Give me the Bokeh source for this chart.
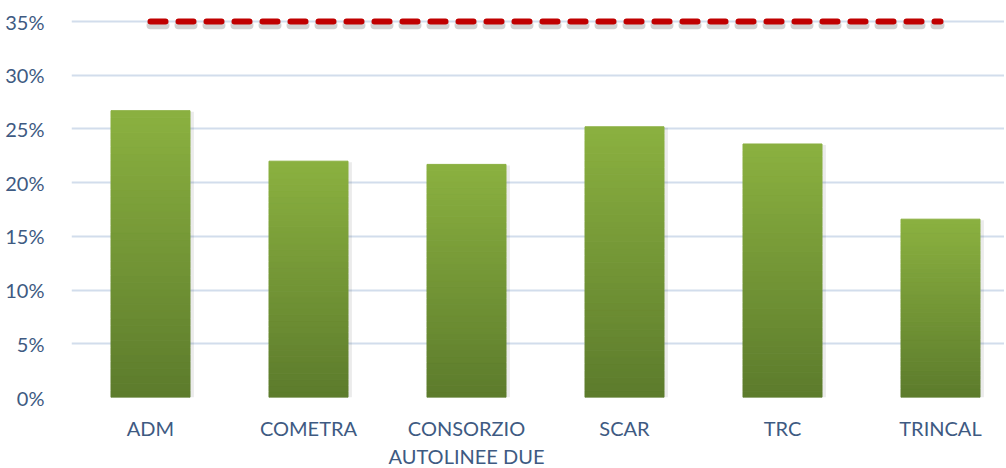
from bokeh.plotting import figure
from bokeh.models import Range1d, FixedTicker
from bokeh.embed import file_html
from bokeh.resources import INLINE

categories = ["ADM", "COMETRA", "CONSORZIO\nAUTOLINEE DUE", "SCAR", "TRC", "TRINCAL"]
values = [26.7, 22.0, 21.7, 25.2, 23.6, 16.6]
target = 35.0
y_ticks = [0, 5, 10, 15, 20, 25, 30, 35]

LABEL = "#3E5A82"
GRID = "#D2DDEC"
TOP = (0x8B, 0xB1, 0x40)
BOT = (0x5C, 0x7B, 0x2C)

xs = [i + 0.5 for i in range(len(categories))]

FW = 933
p = figure(output_backend="svg", toolbar_location=None,
           frame_width=FW, frame_height=385,
           min_border_left=71, min_border_right=0, min_border_top=12, min_border_bottom=60,
           x_range=Range1d(0, FW / 158), y_range=Range1d(0, 35.84))
p.outline_line_color = None
p.background_fill_color = "white"

# gradient bars built as thin horizontal slices of each bar
N = 40
l, r, b, t, c = [], [], [], [], []
for x, v in zip(xs, values):
    for k in range(N):
        f0, f1 = k / N, (k + 1) / N
        l.append(x - 0.25); r.append(x + 0.25)
        b.append(v * f0); t.append(v * f1)
        fm = (f0 + f1) / 2
        col = tuple(int(round(BOT[j] + (TOP[j] - BOT[j]) * fm)) for j in range(3))
        c.append("#%02x%02x%02x" % col)
# soft shadow
p.quad(left=[x - 0.25 + 0.012 for x in xs], right=[x + 0.25 + 0.025 for x in xs],
       bottom=[0] * len(xs), top=[v - 0.1 for v in values],
       fill_color="#000000", fill_alpha=0.08, line_color=None)
p.quad(left=l, right=r, bottom=b, top=t, fill_color=c, line_color=c, line_width=1)

# target dashed line with shadow
p.line([xs[0], xs[-1]], [target - 0.35, target - 0.35], line_color="#7f7f7f", line_alpha=0.35,
       line_width=8, line_dash="15 13", line_cap="round")
p.line([xs[0], xs[-1]], [target, target], line_color="#C00000",
       line_width=6, line_dash="15 13", line_cap="round")

p.yaxis.ticker = FixedTicker(ticks=y_ticks)
p.yaxis.major_label_overrides = {v: f"{v}%" for v in y_ticks}
p.xaxis.ticker = FixedTicker(ticks=xs)
p.xaxis.major_label_overrides = {x: cat for x, cat in zip(xs, categories)}

for ax in (p.xaxis, p.yaxis):
    ax.axis_line_color = None
    ax.major_tick_line_color = None
    ax.minor_tick_line_color = None
    ax.major_label_text_font = "Lato"
    ax.major_label_text_font_size = "20px"
    ax.major_label_text_color = LABEL
p.yaxis.major_label_standoff = 21
p.xaxis.major_label_standoff = 12

p.xgrid.grid_line_color = None
p.ygrid.ticker = FixedTicker(ticks=y_ticks)
p.ygrid.grid_line_color = GRID
p.ygrid.grid_line_width = 2
p.ygrid.level = "underlay"

open("out.html", "w").write(file_html(p, INLINE))
